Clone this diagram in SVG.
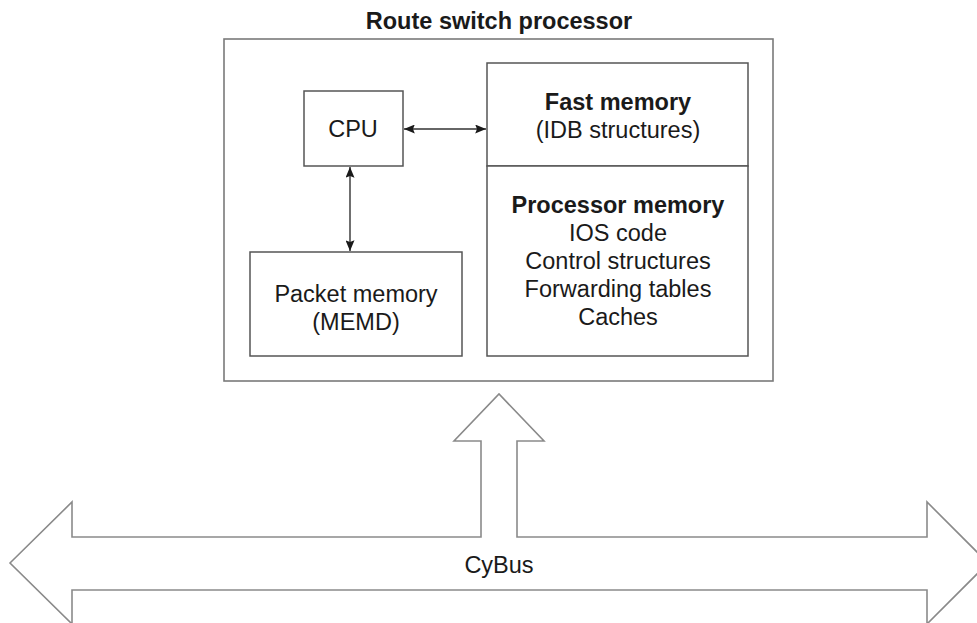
<svg xmlns="http://www.w3.org/2000/svg" width="977" height="623" viewBox="0 0 977 623">
  <defs>
    <marker id="tip" viewBox="0 0 12 10" refX="12" refY="5" markerWidth="11" markerHeight="9" markerUnits="userSpaceOnUse" orient="auto-start-reverse">
      <path d="M0,0 L12,5 L0,10 L2,5 Z" fill="#1a1a1a"/>
    </marker>
  </defs>
  <style>
    text { font-family: "Liberation Sans", Arial, Helvetica, sans-serif; font-size: 23.5px; fill: #1a1a1a; text-anchor: middle; }
    .b { font-weight: bold; }
    .frame { fill: none; stroke: #7a7a7a; stroke-width: 1.6; }
    .box { fill: #ffffff; stroke: #555555; stroke-width: 1.5; }
    .link { fill: none; stroke: #333333; stroke-width: 1.4; }
    .bus { fill: #ffffff; stroke: #8a8a8a; stroke-width: 1.6; stroke-linejoin: miter; }
  </style>
  <rect width="977" height="623" fill="#ffffff"/>

  <!-- Route switch processor board -->
  <g id="rsp">
    <text class="b" x="499" y="29">Route switch processor</text>
    <rect class="frame" x="224" y="39" width="549" height="342"/>
  </g>

  <g id="cpu">
    <rect class="box" x="304" y="91" width="99" height="75"/>
    <text x="353" y="137">CPU</text>
  </g>

  <g id="packet-memory">
    <rect class="box" x="250" y="252" width="212" height="104"/>
    <text x="356" y="302">Packet memory</text>
    <text x="356" y="330">(MEMD)</text>
  </g>

  <g id="fast-memory">
    <rect class="box" x="487" y="63" width="261" height="103"/>
    <text class="b" x="618" y="110">Fast memory</text>
    <text x="618" y="138">(IDB structures)</text>
  </g>

  <g id="processor-memory">
    <rect class="box" x="487" y="166" width="261" height="190"/>
    <text class="b" x="618" y="213">Processor memory</text>
    <text x="618" y="241">IOS code</text>
    <text x="618" y="269">Control structures</text>
    <text x="618" y="297">Forwarding tables</text>
    <text x="618" y="325">Caches</text>
  </g>

  <!-- CyBus with its branch up into the board -->
  <g id="cybus">
    <path class="bus" d="M10,563 L72,502 L72,537 L481,537 L481,441 L454,441 L499,394 L544,441 L517,441 L517,537 L927,537 L927,502 L988,563 L927,624 L927,590 L72,590 L72,624 Z"/>
    <text x="499" y="573">CyBus</text>
  </g>

  <!-- internal data paths -->
  <g id="connectors">
    <line class="link" x1="404" y1="129" x2="486" y2="129" marker-start="url(#tip)" marker-end="url(#tip)"/>
    <line class="link" x1="350" y1="167" x2="350" y2="251" marker-start="url(#tip)" marker-end="url(#tip)"/>
  </g>
</svg>
